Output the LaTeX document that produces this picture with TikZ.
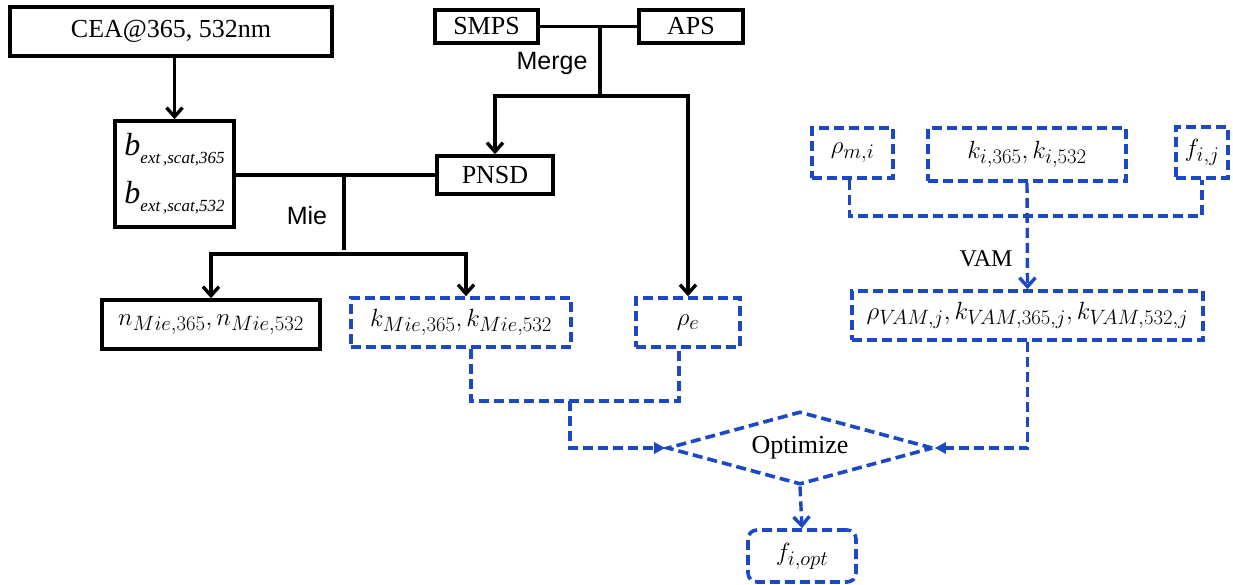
\documentclass[tikz,border=0pt]{standalone}
\usepackage{fontspec}
\setmainfont{Liberation Serif}
\newfontfamily\arialfont{Liberation Sans}
\usetikzlibrary{arrows.meta,shapes.geometric}
\definecolor{bblue}{RGB}{28,72,196}
\DeclareMathSizes{30}{30}{21}{15}
\tikzset{
  bx/.style={draw=black, line width=3.6pt, inner sep=0pt, font=\fontsize{26}{30}\selectfont},
  bbx/.style={draw=bblue, line width=3.6pt, dash pattern=on 10pt off 5pt, inner sep=0pt, font=\fontsize{26}{30}\selectfont},
  mth/.style={font=\fontsize{30}{34}\selectfont},
  conn/.style={draw=black, line width=3.4pt},
  bconn/.style={draw=bblue, line width=3.4pt, dash pattern=on 10pt off 5pt},
  barb/.style={-{Straight Barb[length=9pt,width=16pt]}},
  tri/.style={-{Triangle[length=11pt,width=11pt]}},
  lbl/.style={inner sep=0pt, font=\arialfont\fontsize{25}{30}\selectfont},
}
\begin{document}
\begin{tikzpicture}[x=1pt,y=-1pt]
\useasboundingbox (0,0) rectangle (1233,584);
\fill[white] (0,0) rectangle (1233,584);

% black boxes
\node[bx, minimum width=322pt, minimum height=49pt] (cea) at (171,31.5) {CEA@365, 532nm};
\node[bx, minimum width=119pt, minimum height=106pt, align=left] (b) at (174.5,174)
  {\fontsize{32}{34}\selectfont\itshape b\raisebox{-8pt}{\fontsize{17}{17}\selectfont ext\,,scat,365}\\[14pt]
   \fontsize{32}{34}\selectfont\itshape b\raisebox{-8pt}{\fontsize{17}{17}\selectfont ext\,,scat,532}};
\node[bx, minimum width=116pt, minimum height=38pt] (pnsd) at (495,175) {PNSD};
\node[bx, minimum width=103pt, minimum height=33pt] (smps) at (486.5,26.5) {SMPS};
\node[bx, minimum width=104pt, minimum height=33pt] (aps) at (691,26.5) {APS};
\node[bx, mth, minimum width=218pt, minimum height=49pt] (n) at (211,324.5) {$n_{Mie,365}, n_{Mie,532}$};

% blue boxes
\node[bbx, mth, minimum width=220pt, minimum height=49pt] (k) at (461,322.5) {$k_{Mie,365}, k_{Mie,532}$};
\node[bbx, mth, minimum width=104pt, minimum height=49pt] (rhoe) at (688,322.5) {$\rho_{e}$};
\node[bbx, mth, minimum width=81pt, minimum height=50pt] (rhom) at (852.5,153) {$\rho_{m,i}$};
\node[bbx, mth, minimum width=198pt, minimum height=53pt] (ki) at (1027,154.5) {$k_{i,365}, k_{i,532}$};
\node[bbx, mth, minimum width=52pt, minimum height=51pt] (fij) at (1202,152.5) {$f_{i,j}$};
\node[bbx, mth, minimum width=351pt, minimum height=49pt] (vam) at (1027.5,315.5) {$\rho_{V\!AM,j}, k_{V\!AM,365,j}, k_{V\!AM,532,j}$};
\node[bbx, diamond, aspect=3.6, minimum width=266pt, minimum height=73pt] (opt) at (800,448) {\raisebox{-6pt}{Optimize}};
\node[bbx, mth, rounded corners=9pt, minimum width=108pt, minimum height=52pt] (fopt) at (802,556) {$f_{i,opt}$};

% labels
\node[lbl] (merge) at (552,63) {Merge};
\node[lbl] (mie) at (307,216) {Mie};
\node[inner sep=0pt, font=\fontsize{24}{28}\selectfont] (vaml) at (986,259) {VAM};

% black connectors
\draw[conn, barb] (b.north |- cea.south) -- (b.north);
\draw[conn] (b.east |- pnsd.west) -- (pnsd.west);
\coordinate (mt) at (344,175);
\coordinate (mj) at (344,254);
\draw[conn] (mt) -- ([yshift=4pt]mj);
\draw[conn, barb] (mj) -| (n.north);
\draw[conn, barb] (mj) -| ([xshift=5pt]k.north);
\draw[conn] (smps.east) -- (aps.west);
\coordinate (gt) at (600,27);
\coordinate (gb) at (600,96);
\draw[conn] (gt) -- (gb);
\draw[conn, barb] (gb) -| (pnsd.north);
\draw[conn, barb] (gb) -| (rhoe.north);

% blue connectors
\coordinate (jl) at (570,401);
\draw[bconn] ([xshift=10pt]k.south) |- ([xshift=-9pt]rhoe.south |- jl) -- ([xshift=-9pt]rhoe.south);
\draw[bconn, tri] (jl) |- (opt.west);
\coordinate (jr) at (1027,216);
\draw[bconn] ([xshift=-3pt]rhom.south) |- (fij.south |- jr) -- (fij.south);
\draw[bconn, barb] (ki.south) -- (vam.north);
\draw[bconn, tri] (vam.south) |- (opt.east);
\draw[bconn, barb] (opt.south) -- (fopt.north);
\end{tikzpicture}
\end{document}
